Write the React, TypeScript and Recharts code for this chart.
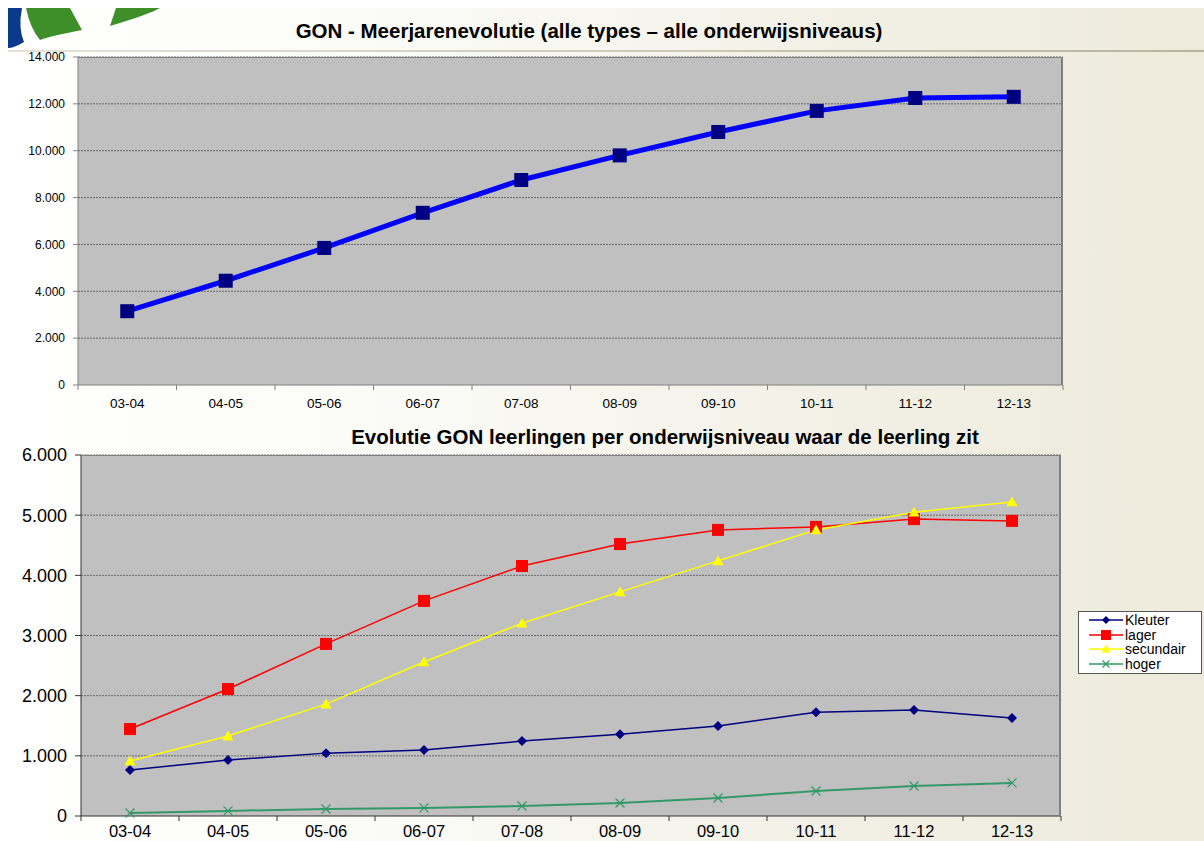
import React from 'react';
import { ComposedChart, Line, XAxis, YAxis, CartesianGrid } from 'recharts';

const SCHOOL_YEARS = ['03-04', '04-05', '05-06', '06-07', '07-08', '08-09', '09-10', '10-11', '11-12', '12-13'];

const TOTAL_GON = [3150, 4450, 5850, 7350, 8750, 9800, 10800, 11700, 12250, 12300];

const KLEUTER = [765, 930, 1045, 1095, 1245, 1360, 1495, 1725, 1760, 1630];
const LAGER = [1445, 2110, 2860, 3575, 4155, 4520, 4755, 4805, 4935, 4905];
const SECUNDAIR = [915, 1330, 1860, 2560, 3205, 3725, 4240, 4755, 5050, 5220];
const HOGER = [50, 85, 115, 135, 165, 215, 300, 415, 500, 550];

const TOP_TICKS = [0, 2000, 4000, 6000, 8000, 10000, 12000, 14000];
const BOTTOM_TICKS = [0, 1000, 2000, 3000, 4000, 5000, 6000];

const totalData = SCHOOL_YEARS.map((year, i) => ({ year, total: TOTAL_GON[i] }));
const levelData = SCHOOL_YEARS.map((year, i) => ({
  year,
  Kleuter: KLEUTER[i],
  lager: LAGER[i],
  secundair: SECUNDAIR[i],
  hoger: HOGER[i],
}));

const SERIES = [
  { key: 'Kleuter', color: '#000080', shape: 'diamond' },
  { key: 'lager', color: '#FF0000', shape: 'square' },
  { key: 'secundair', color: '#FFFF00', shape: 'triangle' },
  { key: 'hoger', color: '#339966', shape: 'cross' },
];

const FONT = 'Arial, "Liberation Sans", sans-serif';
const fmt = (v: number) => v.toLocaleString('de-DE');

// category label plus Excel-style tick marks on the band edges
const YearTick = ({ x, y, payload, index, visibleTicksCount, fontSize, shift, stroke }: any) => {
  const half = payload && payload.offset ? payload.offset : 49;
  const axisY = y - 8;
  const isLast = index === visibleTicksCount - 1;
  return (
    <g>
      <line x1={x - half} y1={axisY} x2={x - half} y2={axisY + 5} stroke={stroke} />
      {isLast && <line x1={x + half} y1={axisY} x2={x + half} y2={axisY + 5} stroke={stroke} />}
      <text x={x} y={y + shift} textAnchor="middle" dominantBaseline="hanging" fontSize={fontSize} fontFamily={FONT} fill="#000">
        {payload.value}
      </text>
    </g>
  );
};

const Marker = ({ cx, cy, shape, color, size }: any) => {
  if (cx == null || cy == null) return null;
  const s = size / 2;
  if (shape === 'square') {
    return <rect x={cx - s} y={cy - s} width={size} height={size} fill={color} />;
  }
  if (shape === 'diamond') {
    return <polygon points={`${cx},${cy - s} ${cx + s},${cy} ${cx},${cy + s} ${cx - s},${cy}`} fill={color} />;
  }
  if (shape === 'triangle') {
    return <polygon points={`${cx},${cy - s} ${cx + s},${cy + s * 0.8} ${cx - s},${cy + s * 0.8}`} fill={color} />;
  }
  return (
    <g stroke={color} strokeWidth={1.3}>
      <line x1={cx - s} y1={cy - s} x2={cx + s} y2={cy + s} />
      <line x1={cx - s} y1={cy + s} x2={cx + s} y2={cy - s} />
    </g>
  );
};

const markerSize: Record<string, number> = { diamond: 10, square: 12, triangle: 11, cross: 9 };

const LegendBox = () => (
  <div
    style={{
      position: 'absolute',
      left: 1078,
      top: 611,
      background: '#fff',
      border: '1px solid #555',
      width: 122,
      padding: '1px 0 2px 0',
      fontFamily: FONT,
      fontSize: 14,
      lineHeight: '14.5px',
    }}
  >
    {SERIES.map((s) => (
      <div key={s.key} style={{ display: 'flex', alignItems: 'center' }}>
        <svg width={44} height={14} style={{ marginLeft: 10, marginRight: 2 }}>
          <line x1={0} y1={7} x2={34} y2={7} stroke={s.color} strokeWidth={1.5} />
          <Marker cx={17} cy={7} shape={s.shape} color={s.color} size={markerSize[s.shape] - 2} />
        </svg>
        <span style={{ marginLeft: -10 }}>{s.key}</span>
      </div>
    ))}
  </div>
);

const Logo = () => (
  <svg width={170} height={42} style={{ position: 'absolute', left: 0, top: 8 }}>
    <path d="M8 0 L22 0 Q18 20 24 34 Q14 40 8 40 Z" fill="#0B3A8C" />
    <path d="M26 0 L70 0 L82 22 Q50 28 40 32 Q30 20 26 0 Z" fill="#3E8E2A" />
    <path d="M116 0 L160 0 Q150 6 110 18 Z" fill="#3E8E2A" />
  </svg>
);

const App = () => {
  return (
    <div
      style={{
        position: 'absolute',
        left: 0,
        top: 0,
        width: 1204,
        height: 841,
        overflow: 'hidden',
        background: '#fff',
        fontFamily: FONT,
      }}
    >
      <div
        style={{
          position: 'absolute',
          left: 8,
          top: 8,
          right: 0,
          bottom: 0,
          background: 'linear-gradient(to right, #FFFFFF 0%, #FAFAF6 35%, #F2F0E5 70%, #EEEBDC 100%)',
        }}
      />
      <div
        style={{
          position: 'absolute',
          left: 8,
          right: 0,
          top: 50,
          height: 2,
          background: 'linear-gradient(to right, #E6E2D6, #B9B3A0)',
        }}
      />
      <Logo />
      <div
        style={{
          position: 'absolute',
          left: 0,
          width: 1178,
          top: 19,
          textAlign: 'center',
          fontWeight: 'bold',
          fontSize: 20.5,
          color: '#000',
        }}
      >
        GON - Meerjarenevolutie (alle types – alle onderwijsniveaus)
      </div>

      {/* top chart */}
      <div style={{ position: 'absolute', left: 0, top: 0 }}>
        <ComposedChart width={1070} height={420} data={totalData} margin={{ top: 57, right: 7, left: 0, bottom: 5 }}>
          <CartesianGrid vertical={false} fill="#C0C0C0" stroke="#666" strokeDasharray="2 1" horizontalValues={TOP_TICKS.slice(1)} />
          <XAxis
            dataKey="year"
            scale="band"
            height={30}
            tickLine={false}
            tickSize={6}
            tickMargin={2}
            axisLine={{ stroke: '#808080' }}
            interval={0}
            tick={<YearTick fontSize={13.5} shift={5} stroke="#808080" />}
          />
          <YAxis domain={[0, 14000]} ticks={TOP_TICKS} width={78} tickFormatter={fmt} axisLine={{ stroke: '#808080' }} tickLine={{ stroke: '#808080' }} tickSize={5} tick={{ fontSize: 12, fill: '#000', fontFamily: FONT }} dx={-6} interval={0} />
          <Line
            dataKey="total"
            stroke="#0000FF"
            strokeWidth={5}
            isAnimationActive={false}
            dot={(p: any) => <Marker key={`t-${p.index}`} cx={p.cx} cy={p.cy} shape="square" color="#000080" size={14} />}
            activeDot={false}
          />
        </ComposedChart>
      </div>
      <div style={{ position: 'absolute', left: 78, top: 57, width: 985, height: 328, borderTop: '1px solid #808080', borderRight: '2px solid #808080', boxSizing: 'border-box', pointerEvents: 'none' }} />

      <div
        style={{
          position: 'absolute',
          left: 330,
          width: 670,
          top: 425,
          textAlign: 'center',
          fontWeight: 'bold',
          fontSize: 20.5,
          color: '#000',
          whiteSpace: 'nowrap',
        }}
      >
        Evolutie GON leerlingen per onderwijsniveau waar de leerling zit
      </div>

      {/* bottom chart */}
      <div style={{ position: 'absolute', left: 0, top: 420 }}>
        <ComposedChart width={1204} height={441} data={levelData} margin={{ top: 35, right: 143, left: 0, bottom: 15 }}>
          <CartesianGrid vertical={false} fill="#C0C0C0" stroke="#666" strokeDasharray="2 1" horizontalValues={BOTTOM_TICKS.slice(1)} />
          <XAxis
            dataKey="year"
            scale="band"
            height={30}
            tickLine={false}
            tickSize={6}
            tickMargin={2}
            axisLine={{ stroke: '#333' }}
            interval={0}
            tick={<YearTick fontSize={16.5} shift={1} stroke="#333" />}
          />
          <YAxis domain={[0, 6000]} ticks={BOTTOM_TICKS} width={81} tickFormatter={fmt} axisLine={{ stroke: '#333' }} tickLine={{ stroke: '#333' }} tickSize={6} tick={{ fontSize: 18, fill: '#000', fontFamily: FONT }} dx={-6} interval={0} />
          {SERIES.map((s) => (
            <Line
              key={s.key}
              dataKey={s.key}
              stroke={s.color}
              strokeWidth={s.shape === 'cross' ? 2 : 1.5}
              isAnimationActive={false}
              dot={(p: any) => <Marker key={`${s.key}-${p.index}`} cx={p.cx} cy={p.cy} shape={s.shape} color={s.color} size={markerSize[s.shape]} />}
              activeDot={false}
            />
          ))}
        </ComposedChart>
      </div>
      <div style={{ position: 'absolute', left: 81, top: 455, width: 980, height: 361, borderTop: '1px solid #808080', borderRight: '2px solid #808080', boxSizing: 'border-box', pointerEvents: 'none' }} />
      <LegendBox />
    </div>
  );
};

export default App;
